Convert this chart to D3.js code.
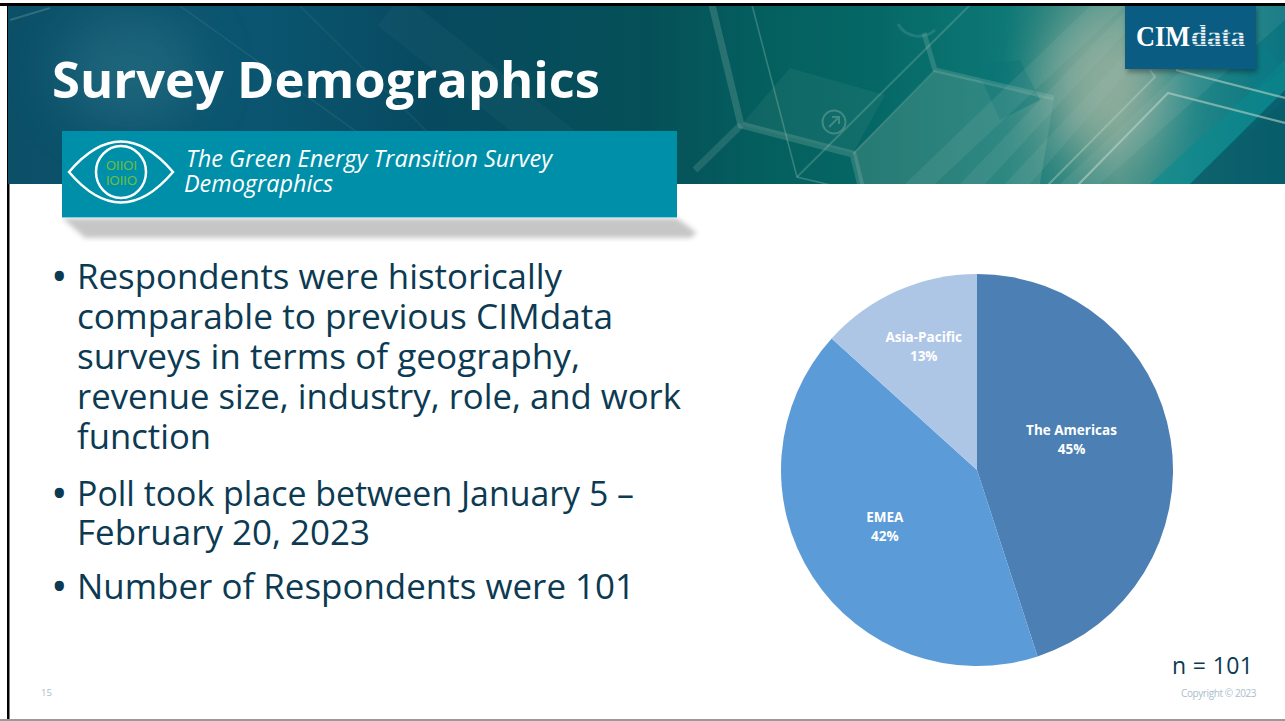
<!DOCTYPE html>
<html><head><meta charset="utf-8">
<script src="https://cdnjs.cloudflare.com/ajax/libs/d3/7.8.5/d3.min.js"></script>
<style>html,body{margin:0;padding:0;background:#fff;overflow:hidden}svg{display:block}</style>
</head><body><svg id="c" width="1285" height="721"></svg>
<script>
const categories=["The Americas","EMEA","Asia-Pacific"];
const shares=[45,41.7,13.3];
const sliceColors=["#4C7FB3","#5B9BD8","#AEC6E6"];
const labelOffsets=[[-2.3,-19.5],[-10,-1],[-13.5,-38]];
const labelFont="'Open Sans','Noto Sans',sans-serif";
const titleText="Survey Demographics";
const subtitleLines=["The Green Energy Transition Survey","Demographics"];
const bulletLines=[
 {t:"Respondents were historically",y:289,b:true,w:485},
 {t:"comparable to previous CIMdata",y:329,w:536},
 {t:"surveys in terms of geography,",y:369,w:503},
 {t:"revenue size, industry, role, and work",y:409,w:604},
 {t:"function",y:449,w:134},
 {t:"Poll took place between January 5 –",y:506,b:true,w:557},
 {t:"February 20, 2023",y:545,w:293},
 {t:"Number of Respondents were 101",y:599,b:true,w:558}];
const svg=d3.select("#c");
const defs=svg.append("defs");
const g1=defs.append("linearGradient").attr("id","hdr").attr("x1",0).attr("x2",1).attr("y1",0).attr("y2",0);
[[0,"#0C5068"],[0.2,"#0B5570"],[0.33,"#074A60"],[0.5,"#055058"],[0.6,"#04605F"],[0.68,"#056866"],[0.78,"#0D7876"],[0.87,"#4F9488"],[0.93,"#1F8587"],[1,"#0B7480"]].forEach(d=>g1.append("stop").attr("offset",d[0]).attr("stop-color",d[1]));
const blur=defs.append("filter").attr("id","bl").attr("x","-10%").attr("y","-50%").attr("width","120%").attr("height","200%");
blur.append("feGaussianBlur").attr("stdDeviation",2.5);
const blur2=defs.append("filter").attr("id","bl2").attr("x","-50%").attr("y","-50%").attr("width","200%").attr("height","200%");
blur2.append("feGaussianBlur").attr("stdDeviation",26);
const cp=defs.append("clipPath").attr("id","hc");cp.append("rect").attr("x",8).attr("y",6).attr("width",1277).attr("height",178);

// frame
svg.append("rect").attr("x",0).attr("y",3).attr("width",1285).attr("height",3).attr("fill","#000");
svg.append("rect").attr("x",7).attr("y",3).attr("width",2.5).attr("height",718).attr("fill","#000");
svg.append("rect").attr("x",0).attr("y",719).attr("width",1285).attr("height",2).attr("fill","#9a9a9a");

// header
const h=svg.append("g").attr("clip-path","url(#hc)");
h.append("rect").attr("x",8).attr("y",6).attr("width",1277).attr("height",178).attr("fill","url(#hdr)");
h.append("ellipse").attr("cx",1105).attr("cy",85).attr("rx",60).attr("ry",75).attr("fill","#A9B8A4").attr("opacity",.7).attr("filter","url(#bl2)");
h.append("ellipse").attr("cx",130).attr("cy",70).attr("rx",70).attr("ry",55).attr("fill","#2C7488").attr("opacity",.55).attr("filter","url(#bl2)");
// hexagon facets
h.append("polygon").attr("points","853,153 935,70 1054,98 1040,184 860,184").attr("fill","#8FB5A8").attr("opacity",.26);
h.append("polygon").attr("points","741,125 790,68 885,95 853,153").attr("fill","#5F9A90").attr("opacity",.14);
h.append("polygon").attr("points","975,65 1020,60 1040,100 1000,120").attr("fill","#0A7476").attr("opacity",.4);
// translucent diagonal bands
[[[905,184],[1090,6],[1125,6],[935,184]],[[960,184],[1130,6],[1150,6],[985,184]],[[1005,184],[1170,6],[1185,6],[1030,184]],[[1060,184],[1250,6],[1285,6],[1285,20],[1100,184]]].forEach(p=>h.append("polygon").attr("points",p.join(" ")).attr("fill","#A8C8BC").attr("opacity",.12));
h.append("polygon").attr("points","1150,184 1285,60 1285,100 1190,184").attr("fill","#0A8A90").attr("opacity",.6);
h.append("polygon").attr("points","1190,184 1285,90 1285,184").attr("fill","#06505F").attr("opacity",.65);
h.append("polygon").attr("points","1240,60 1265,45 1285,70 1255,90").attr("fill","#0A7C88").attr("opacity",.5);
// hexagon lines
const lines=[
 {d:"M712,5 L741,125 L853,154 L862,190",w:7,o:.2},
 {d:"M741,125 L695,170",w:7,o:.16},
 {d:"M924,33 L935,70 L1054,98",w:5,o:.2},
 {d:"M935,70 L853,154",w:2,o:.14},
 {d:"M752,5 L797,177 L835,186",w:1.6,o:.28},
 {d:"M797,177 L972,3",w:2,o:.24},
 {d:"M1047,186 L1155,77 L1150,70",w:2,o:.42},
 {d:"M1077,186 L1168,93 L1285,123",w:2.2,o:.6},
 {d:"M1176,70 L1285,98",w:2.2,o:.6},
 {d:"M180,6 L430,184",w:1.5,o:.1},
 {d:"M300,6 L480,184",w:1.5,o:.08},
 {d:"M390,10 L610,184",w:40,o:.04},
 {d:"M10,20 L50,8",w:2,o:.22}
];
lines.forEach(l=>h.append("path").attr("d",l.d).attr("fill","none").attr("stroke","#B8D2C4").attr("stroke-width",l.w).attr("opacity",l.o));
h.append("circle").attr("cx",834).attr("cy",122).attr("r",11.5).attr("fill","none").attr("stroke","#9CC2B6").attr("stroke-width",2).attr("opacity",.35);
h.append("path").attr("d","M829,127 L838,118 M832,117 L839,117 L839,124").attr("fill","none").attr("stroke","#9CC2B6").attr("stroke-width",2).attr("opacity",.35);
h.append("path").attr("d","M898,24 A24,24 0 0 0 935,30").attr("fill","none").attr("stroke","#6FB0A8").attr("stroke-width",3).attr("opacity",.25);

// logo
svg.append("rect").attr("x",1127).attr("y",9).attr("width",130).attr("height",63).attr("fill","#000").attr("opacity",.35).attr("filter","url(#bl)");
svg.append("rect").attr("x",1125).attr("y",6).attr("width",131).attr("height",63).attr("fill","#0A5C82");
svg.append("text").attr("x",1136).attr("y",46).attr("font-family","'Liberation Serif',serif").attr("font-weight",700).attr("font-size",29).attr("fill","#fff").attr("textLength",54).attr("lengthAdjust","spacingAndGlyphs").text("CIM");
svg.append("text").attr("x",1191).attr("y",46).attr("font-family","'Liberation Serif',serif").attr("font-weight",700).attr("font-size",29).attr("fill","#E4EDF0").attr("textLength",54).attr("lengthAdjust","spacingAndGlyphs").text("data");
// stripes across "data"
[26,29,32,35,38,41,44].forEach(y=>svg.append("rect").attr("x",1191).attr("y",y).attr("width",55).attr("height",1).attr("fill","#0A5C82").attr("opacity",.7));

// title
svg.append("text").attr("x",52).attr("y",98).attr("font-family",labelFont).attr("font-weight",700).attr("font-size",50).attr("fill","#fff").attr("textLength",548).attr("lengthAdjust","spacingAndGlyphs").text(titleText);

// banner shadow + banner
svg.append("polygon").attr("points","62,218 677,218 697,233 690,238 85,238").attr("fill","#bdbdbd").attr("opacity",.85).attr("filter","url(#bl)");
svg.append("rect").attr("x",62).attr("y",131).attr("width",615).attr("height",87).attr("fill","#008FA8");
svg.append("rect").attr("x",62).attr("y",217).attr("width",615).attr("height",1).attr("fill","#7FD0DE");
svg.selectAll("text.sub").data(subtitleLines).join("text").attr("class","sub").attr("x",(d,i)=>i?184:186).attr("y",(d,i)=>167+i*25).attr("font-family",labelFont).attr("font-style","italic").attr("font-size",23.5).attr("fill","#fff").each(function(d,i){d3.select(this).attr("textLength",i?149:366).attr("lengthAdjust","spacingAndGlyphs")}).text(d=>d);

// eye icon
svg.append("path").attr("d","M69,172 Q121,111 173,172 Q121,233 69,172 Z").attr("fill","none").attr("stroke","#fff").attr("stroke-width",2.5);
svg.append("ellipse").attr("cx",121).attr("cy",172).attr("rx",25).attr("ry",26).attr("fill","none").attr("stroke","#fff").attr("stroke-width",2.5);
["OIIOI","IOIIO"].forEach((s,i)=>svg.append("text").attr("x",106).attr("y",170+i*15).attr("font-family","'Liberation Sans',sans-serif").attr("font-size",13).attr("fill","#6DBE45").attr("textLength",31).attr("lengthAdjust","spacing").text(s));

// bullets
svg.selectAll("text.bl").data(bulletLines).join("text").attr("class","bl").attr("x",77).attr("y",d=>d.y).attr("font-family",labelFont).attr("font-size",34.8).attr("fill","#0C3A52").attr("textLength",d=>d.w).attr("lengthAdjust","spacingAndGlyphs").text(d=>d.t);
svg.selectAll("text.dot").data(bulletLines.filter(d=>d.b)).join("text").attr("class","dot").attr("x",51).attr("y",d=>d.y+3).attr("font-family",labelFont).attr("font-size",44).attr("fill","#0C3A52").text("•");

// pie
const pieData=d3.pie().sort(null).value(d=>d)(shares);
const R=196;
const arc=d3.arc().innerRadius(0).outerRadius(R);
const color=d3.scaleOrdinal().domain(categories).range(sliceColors);
const pg=svg.append("g").attr("transform","translate(977,470)");
pg.selectAll("path").data(pieData).join("path").attr("d",arc).attr("fill",(d,i)=>color(categories[i]));
const lab=pg.selectAll("g.l").data(pieData).join("g").attr("class","l").attr("transform",(d,i)=>{const c=arc.centroid(d);return `translate(${c[0]+labelOffsets[i][0]},${c[1]+labelOffsets[i][1]})`});
lab.append("text").attr("text-anchor","middle").attr("y",0).attr("font-family",labelFont).attr("font-weight",700).attr("font-size",13.5).attr("fill","#fff").text((d,i)=>categories[i]);
lab.append("text").attr("text-anchor","middle").attr("y",19).attr("font-family",labelFont).attr("font-weight",700).attr("font-size",13.5).attr("fill","#fff").text(d=>Math.round(d.data)+"%");

// notes
svg.append("text").attr("x",1172).attr("y",674).attr("font-family",labelFont).attr("font-size",23).attr("fill","#0C3A52").attr("textLength",81).text("n = 101");
svg.append("text").attr("x",1181).attr("y",697).attr("font-family",labelFont).attr("font-size",10).attr("letter-spacing",-0.4).attr("fill","#A9BDCB").text("Copyright © 2023");
svg.append("text").attr("x",41).attr("y",696).attr("font-family",labelFont).attr("font-size",9.5).attr("fill","#A9BDCB").text("15");
</script></body></html>
